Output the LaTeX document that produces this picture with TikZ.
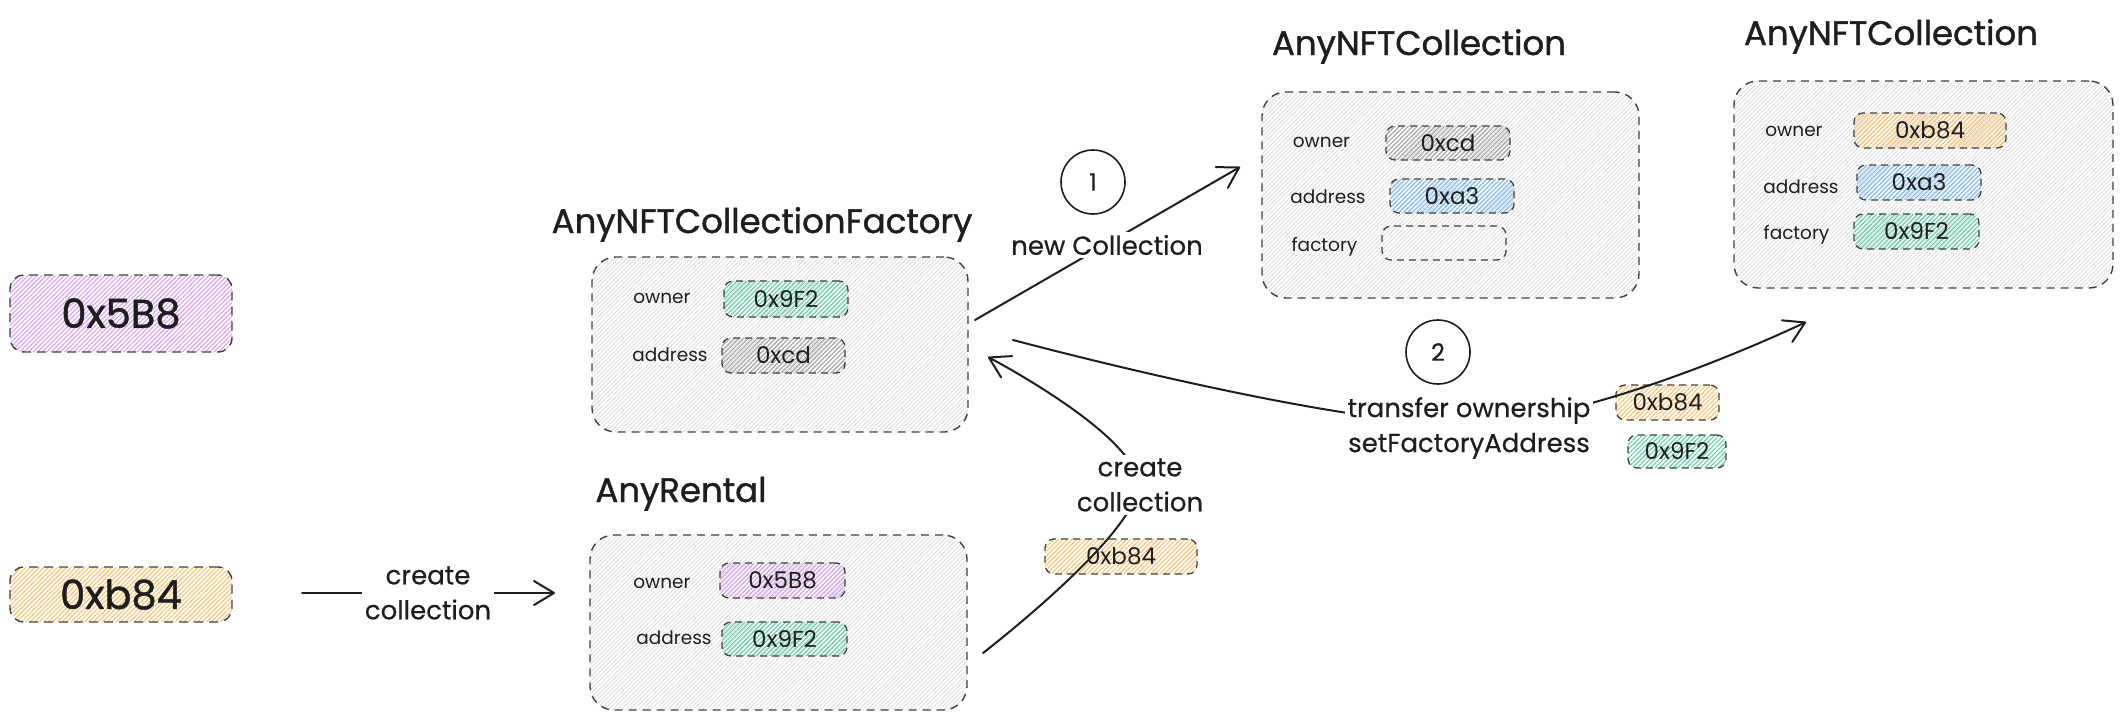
\documentclass[tikz,border=0pt]{standalone}
\usepackage{fontspec}
\setmainfont{Poppins}
\newfontfamily\heavyhand{Poppins}[FakeBold=1.2]
\newfontfamily\midhand{Poppins}[FakeBold=0.5]
\usetikzlibrary{patterns.meta,arrows.meta}

\definecolor{ink}{HTML}{1E1E1E}
\definecolor{panelhatch}{HTML}{D6D6D6}
\definecolor{greyhatch}{HTML}{A6A6A6}
\definecolor{greenhatch}{HTML}{5FD0A8}
\definecolor{pinkhatch}{HTML}{D9A0F2}
\definecolor{orangehatch}{HTML}{FBC36E}
\definecolor{bluehatch}{HTML}{7DBDF5}

\newcommand{\fs}[2]{\fontsize{#1}{#2}\selectfont}

\tikzset{
  hatch/.style={pattern={Lines[angle=45,distance=3.2pt,line width=1.1pt]}, pattern color=#1},
  panel/.style={draw=ink!85, line width=1.4pt, dash pattern=on 8pt off 6pt,
    rounded corners=24pt, inner sep=0pt,
    pattern={Lines[angle=45,distance=3pt,line width=0.7pt]}, pattern color=panelhatch},
  keybox/.style={draw=ink!85, line width=1.4pt, dash pattern=on 9pt off 6pt,
    rounded corners=14pt, inner sep=0pt, text=ink, font=\heavyhand\fs{40}{44}, hatch=#1},
  valbox/.style={draw=ink!85, line width=1.3pt, dash pattern=on 7pt off 5pt,
    rounded corners=9pt, inner sep=0pt, text=ink, font=\fs{23}{26}, hatch=#1},
  emptybox/.style={draw=ink!85, line width=1.3pt, dash pattern=on 7pt off 5pt,
    rounded corners=9pt, inner sep=0pt},
  dims/.style 2 args={minimum width=#1pt, minimum height=#2pt},
  title/.style={text=ink, font=\heavyhand\fs{34}{38}, inner sep=0pt, anchor=base},
  field/.style={text=ink, font=\fs{18.5}{22}, inner sep=0pt},
  lbl/.style={text=ink, fill=white, align=center, inner sep=3pt, font=\midhand\fs{26}{35}},
  stepnum/.style={circle, draw=ink, line width=1.6pt, minimum size=64pt, inner sep=0pt,
    text=ink, font=\midhand\fs{24}{26}},
  arr/.style={draw=ink, line width=2pt, line cap=round, line join=round,
    -{Straight Barb[length=20pt,width=24pt,round]}},
}

\begin{document}
\begin{tikzpicture}[x=1pt,y=-1pt]
\useasboundingbox (0,0) rectangle (2121,720);

% ---- accounts ----
\node[keybox=pinkhatch, dims={222}{77}] (k5b8) at (121,313.5) {0x5B8};
\node[keybox=orangehatch, dims={222}{55}] (kb84) at (121,594.5) {0xb84};

% ---- AnyNFTCollectionFactory ----
\node[title] (tFac) at (762,233) {AnyNFTCollectionFactory};
\node[panel, dims={376}{175}] (fac) at (780,344.5) {};
\node[field] (facOwnerL) at (662,298) {owner};
\node[valbox=greenhatch, dims={124}{36}] (facOwner) at (786,299) {0x9F2};
\node[field] (facAddrL) at (670,355) {address};
\node[valbox=greyhatch, dims={123}{35}] (facAddr) at (783.5,355.5) {0xcd};

% ---- AnyRental ----
\node[title] (tRen) at (681,502) {AnyRental};
\node[panel, dims={377}{175}] (ren) at (778.5,622.5) {};
\node[field] (renOwnerL) at (662,583) {owner};
\node[valbox=pinkhatch, dims={125}{35}] (renOwner) at (782.5,580.5) {0x5B8};
\node[field] (renAddrL) at (674,638) {address};
\node[valbox=greenhatch, dims={125}{34}] (renAddr) at (784.5,639) {0x9F2};

% ---- AnyNFTCollection (new) ----
\node[title] (tColA) at (1419,55) {AnyNFTCollection};
\node[panel, dims={377}{206}] (colA) at (1450.5,195) {};
\node[field] (colAOwnerL) at (1321.5,142) {owner};
\node[valbox=greyhatch, dims={124}{34}] (colAOwner) at (1448,143) {0xcd};
\node[field] (colAAddrL) at (1328,197) {address};
\node[valbox=bluehatch, dims={124}{34}] (colAAddr) at (1452,196) {0xa3};
\node[field] (colAFacL) at (1324.5,247) {factory};
\node[emptybox, dims={124}{34}] (colAFac) at (1444,243) {};

% ---- AnyNFTCollection (configured) ----
\node[title] (tColB) at (1891,45) {AnyNFTCollection};
\node[panel, dims={379}{207}] (colB) at (1923.5,184.5) {};
\node[field] (colBOwnerL) at (1794,131) {owner};
\node[valbox=orangehatch, dims={152}{35}] (colBOwner) at (1930,130.5) {0xb84};
\node[field] (colBAddrL) at (1801,187) {address};
\node[valbox=bluehatch, dims={124}{35}] (colBAddr) at (1919,182.5) {0xa3};
\node[field] (colBFacL) at (1796.5,235) {factory};
\node[valbox=greenhatch, dims={125}{35}] (colBFac) at (1916.5,231.5) {0x9F2};

% ---- call arguments ----
\node[valbox=orangehatch, dims={152}{35}] (argCreate) at (1121,556.5) {0xb84};
\node[valbox=orangehatch, dims={103}{35}] (argOwner) at (1667.5,402.5) {0xb84};
\node[valbox=greenhatch, dims={98}{33}] (argFactory) at (1677,451.5) {0x9F2};

% ---- step markers ----
\node[stepnum] (step1) at (1093,182) {1};
\node[stepnum] (step2) at (1438,352) {2};

% ---- connector end points ----
\coordinate (userOut) at (302,593);
\coordinate (renIn) at (555,593);
\coordinate (renOut) at (983,653);
\coordinate (createMid) at (1138,485);
\coordinate (facIn) at (988,357);
\coordinate (facOut) at (975,320);
\coordinate (colAIn) at (1240,167);
\coordinate (facOut2) at (1013,340);
\coordinate (transferMid) at (1469,424);
\coordinate (colBIn) at (1806,322);

% ---- connectors ----
\draw[arr] (userOut) -- (renIn);
\draw[arr] plot[smooth, tension=0.6] coordinates {(renOut) (createMid) (facIn)};
\draw[arr] (facOut) -- (colAIn);
\draw[arr] plot[smooth, tension=0.6] coordinates {(facOut2) (transferMid) (colBIn)};

% ---- connector labels ----
\node[lbl] (lblUser) at (428,593) {create\\collection};
\node[lbl] (lblCreate) at (1140,485) {create\\collection};
\node[lbl] (lblNew) at (1107,245) {new Collection};
\node[lbl] (lblTransfer) at (1469,428) {transfer ownership\\setFactoryAddress};
\end{tikzpicture}
\end{document}
